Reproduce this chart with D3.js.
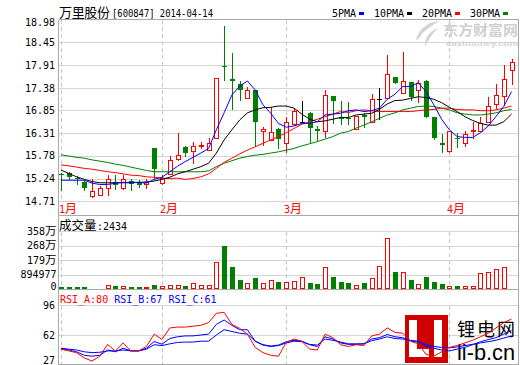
<!DOCTYPE html>
<html><head><meta charset="utf-8">
<script src="https://cdn.jsdelivr.net/npm/d3@7"></script>
<style>
html,body{margin:0;padding:0;background:#fff;}
svg{display:block;}
</style></head><body>
<svg id="c" width="520" height="365"></svg>
<script>
const dates = ["2014-01-14","2014-01-15","2014-01-16","2014-01-17","2014-01-20","2014-01-21","2014-01-22","2014-01-23","2014-01-24","2014-01-27","2014-01-28","2014-01-29","2014-01-30",
"2014-02-07","2014-02-10","2014-02-11","2014-02-12","2014-02-13","2014-02-14","2014-02-17","2014-02-18","2014-02-19","2014-02-20","2014-02-21","2014-02-24","2014-02-25","2014-02-26","2014-02-27","2014-02-28",
"2014-03-03","2014-03-04","2014-03-05","2014-03-06","2014-03-07","2014-03-10","2014-03-11","2014-03-12","2014-03-13","2014-03-14","2014-03-17","2014-03-18","2014-03-19","2014-03-20","2014-03-21","2014-03-24","2014-03-25","2014-03-26","2014-03-27","2014-03-28","2014-03-31",
"2014-04-01","2014-04-02","2014-04-03","2014-04-04","2014-04-08","2014-04-09","2014-04-10","2014-04-11","2014-04-14"];
const open = [15.35,15.36,15.25,15.17,14.83,14.85,15.01,15.15,15.01,15.18,15.17,15.11,15.95,15.13,15.35,15.69,15.99,15.88,16.00,15.91,16.19,17.90,17.59,17.46,17.13,17.33,16.36,16.15,16.42,16.07,16.53,16.58,16.78,16.41,16.36,17.18,16.70,16.66,16.42,16.75,16.57,17.12,17.13,17.63,17.25,17.52,17.33,17.55,16.70,16.09,15.90,16.20,16.09,16.37,16.36,16.58,17.01,17.19,17.79];
const high = [15.38,15.40,15.29,15.21,15.22,15.06,15.32,15.32,15.32,15.22,15.21,15.23,15.97,15.33,15.77,16.31,16.00,16.11,16.11,16.19,17.60,18.84,18.19,17.53,17.41,17.33,16.46,16.92,16.43,16.70,16.90,17.07,16.80,16.48,17.33,17.19,17.06,17.05,16.72,16.78,17.23,17.37,18.15,17.63,18.23,17.52,17.57,17.56,16.70,16.29,16.36,16.31,16.36,16.58,16.70,17.16,17.47,17.92,18.06];
const low = [14.96,15.22,15.10,14.96,14.80,14.84,14.85,14.99,15.00,14.96,15.05,15.01,15.22,15.12,15.34,15.68,15.77,15.60,15.96,15.91,16.19,17.56,16.87,17.09,17.13,16.01,16.03,16.14,15.97,15.87,16.50,16.54,16.11,16.15,16.21,16.54,16.52,16.52,16.42,16.46,16.57,16.64,17.13,17.50,17.25,17.09,17.05,16.70,16.17,15.87,15.87,15.99,16.01,16.19,16.35,16.58,16.90,16.98,17.46];
const close = [15.33,15.27,15.22,15.01,14.95,15.01,15.22,15.09,15.23,15.10,15.09,15.17,15.47,15.26,15.68,15.79,15.84,16.01,16.02,16.07,17.60,17.87,17.53,17.33,17.33,16.58,16.41,16.33,16.17,16.58,16.83,16.58,16.43,16.35,17.20,17.08,16.65,16.64,16.72,16.70,17.12,17.12,17.71,17.50,17.54,17.17,17.49,16.70,16.19,16.02,16.36,16.18,16.29,16.39,16.56,16.96,17.20,17.58,17.98];
// volume in 万 shares
const volume = [15,15,15,15,5,5,25,21,19,15,15,15,27,19,25,25,21,34,27,27,164,268,134,58,40,65,38,56,46,44,50,75,40,28,136,71,46,34,24,34,69,142,313,107,105,58,30,71,46,28,20,20,20,20,99,105,123,136,0.24];
const ma5 = [15.20,15.20,15.20,15.20,15.13,15.10,15.10,15.13,15.15,15.15,15.15,15.13,15.22,15.27,15.40,15.53,15.64,15.74,15.84,15.95,16.39,16.79,17.21,17.42,17.54,17.33,16.98,16.78,16.54,16.45,16.48,16.54,16.54,16.58,16.74,16.76,16.78,16.84,16.86,16.82,16.84,16.90,17.11,17.23,17.41,17.41,17.50,17.29,16.98,16.64,16.39,16.23,16.21,16.21,16.32,16.48,16.70,16.94,17.29];
const ma10 = [15.44,15.36,15.28,15.22,15.17,15.14,15.14,15.14,15.14,15.14,15.15,15.16,15.18,15.22,15.27,15.35,15.40,15.46,15.52,15.60,15.84,16.15,16.39,16.62,16.79,16.86,16.91,16.92,16.95,16.95,16.90,16.76,16.64,16.58,16.60,16.64,16.68,16.68,16.74,16.76,16.78,16.87,17.00,17.08,17.09,17.13,17.17,17.15,17.11,17.03,16.92,16.82,16.70,16.61,16.54,16.50,16.50,16.58,16.76];
const ma20 = [15.56,15.54,15.51,15.48,15.46,15.43,15.40,15.38,15.35,15.32,15.31,15.28,15.27,15.25,15.24,15.25,15.22,15.24,15.28,15.35,15.48,15.62,15.72,15.82,15.91,15.99,16.07,16.15,16.23,16.32,16.42,16.52,16.58,16.64,16.70,16.76,16.82,16.80,16.84,16.86,16.84,16.82,16.82,16.82,16.82,16.82,16.84,16.86,16.87,16.90,16.90,16.87,16.86,16.86,16.84,16.84,16.86,16.90,16.95];
const ma30 = [15.80,15.77,15.74,15.72,15.68,15.65,15.62,15.58,15.55,15.51,15.47,15.43,15.40,15.40,15.40,15.40,15.40,15.40,15.40,15.42,15.52,15.60,15.66,15.72,15.76,15.79,15.81,15.84,15.87,15.91,15.95,16.01,16.06,16.11,16.17,16.23,16.31,16.35,16.43,16.50,16.58,16.66,16.74,16.79,16.86,16.90,16.94,16.95,16.94,16.90,16.86,16.79,16.76,16.74,16.74,16.76,16.79,16.84,16.87];
const rsiA = [46,44,42,36,32.5,38,51.4,43.8,53,44,44,49,63,57,70,71,71,72,73,76,86.6,87.7,74,69.5,63,48,42,39,38,53.7,57.5,55,46,45,63,59,51,49,51,50,61,63,70,65,64,55,52,40,38,43,48,50,53,56,60,64,70,76,80];
const rsiB = [46,45,43,39,38,39,45,43,47,44,44,47,54.6,51.6,58,60,61,61,62,63,74,79,73,68,68,55,51,49.5,50.6,54.4,56,55,51,49,60,57.5,53,51.4,51.4,52,57.5,59,62.6,60,59,55,54,49,47,45,44,46,48,51,54.4,56.7,59,63,67];
const rsiC = [47,46,45,43,42,42.5,44,44,45,44,44,46,51,50,52,53.6,54,54,55,55,62,68,66,64,63,55,50.6,49,50,53,55,54.4,51.4,50.6,57.5,56,54,52,52,52,55.6,57.5,60,58,57.5,56,55,51,49,48,47.5,48.5,50,51.5,53,54.4,56,58.5,61];
const priceTicks = [14.71,15.24,15.78,16.31,16.85,17.38,17.91,18.45,18.98];
const volTicks = [0,89.4977,178.9954,268.4931,357.9908];
const volTickLabels = ["0","894977","179万","268万","358万"];
const rsiTicks = [27,62,96];
const maNames = ["5PMA","10PMA","20PMA","30PMA"];
const title = ["万里股份","[600847] 2014-04-14"];
const volLabel = ["成交量",":2434"];
const rsiLabels = ["RSI_A:80","RSI_B:67","RSI_C:61"];

const RED="#ff0000", GREEN="#008000", BLUE="#0000ff", BLACK="#000000";
const MONO="'DejaVu Sans Mono', monospace", CJK="'Noto Sans CJK SC', sans-serif";
const L=58.5, R=518.5;
const svg = d3.select("#c");

const x = d3.scalePoint().domain(dates).range([61, 511.5]);
const yP = d3.scaleLinear().domain([14.71, 18.98]).range([201, 20]);
const yV = d3.scaleLinear().domain([0, 357.9908]).range([289, 231]);
const yR = d3.scaleLinear().domain([27, 96]).range([365.9, 305]);
const px = d => Math.round(x(d));

// watermarks (behind)
const wm = svg.append("g");
wm.append("path").attr("fill","#d4d4d4")
  .attr("d","M440,21 C428,22 417,30 416,41 C420,35 428,27 440,21 Z M438,28 C430,31 424,38 425,47 C428,40 432,34 438,28 Z M433,22 C424,25 418,33 418,40 C422,33 427,27 433,22 Z");
wm.append("text").attr("x",443).attr("y",35).attr("font-family",CJK).attr("font-weight","bold")
  .attr("font-size",14).attr("fill","#d0d0d0").attr("textLength",75).attr("lengthAdjust","spacingAndGlyphs").text("东方财富网");
wm.append("text").attr("x",446).attr("y",46).attr("font-family","'Liberation Sans', sans-serif").attr("font-weight","bold")
  .attr("font-size",7.5).attr("fill","#d4d4d4").attr("textLength",72).attr("lengthAdjust","spacingAndGlyphs").text("eastmoney.com");

// grid
const grid = svg.append("g").attr("shape-rendering","crispEdges").attr("stroke","#d4d4d4");
priceTicks.slice(0,-1).forEach(t=>{
  const yy=Math.round(yP(t))+0.5;
  grid.append("line").attr("x1",L).attr("x2",R).attr("y1",yy).attr("y2",yy);
});
volTicks.slice(1).forEach(t=>{
  const yy=Math.round(yV(t))+0.5;
  grid.append("line").attr("x1",L).attr("x2",R).attr("y1",yy).attr("y2",yy);
});
[62,96].forEach(t=>{
  const yy=Math.round(yR(t))+0.5;
  grid.append("line").attr("x1",L).attr("x2",R).attr("y1",yy).attr("y2",yy);
});
// month dashed lines and labels
const monthStarts = dates.map((d,i)=>i).filter(i=> i===0 || dates[i].slice(5,7)!==dates[i-1].slice(5,7));
monthStarts.forEach(i=>{
  const xx = px(dates[i])+0.5;
  [[20,201],[232,289],[306,364]].forEach(([a,b])=>{
    grid.append("line").attr("x1",xx).attr("x2",xx).attr("y1",a).attr("y2",b)
      .attr("stroke","#c8c8c8").attr("stroke-dasharray","4,3");
  });
  const t = svg.append("text").attr("x",xx-2.5).attr("y",213).attr("fill",RED);
  t.append("tspan").attr("font-family",MONO).attr("font-size",10).text(String(+dates[i].slice(5,7)));
  t.append("tspan").attr("font-family",CJK).attr("font-size",12).text("月");
});

// logo (bottom right)
const lg = svg.append("g").attr("shape-rendering","crispEdges");
lg.append("rect").attr("x",405).attr("y",315).attr("width",43).attr("height",48).attr("fill","#d00000");
lg.append("rect").attr("x",409).attr("y",320).attr("width",8).attr("height",37).attr("fill","#fff");
lg.append("rect").attr("x",409).attr("y",349).attr("width",20).attr("height",8).attr("fill","#fff");
lg.append("rect").attr("x",434).attr("y",320).attr("width",8).attr("height",37).attr("fill","#fff");
svg.append("text").attr("x",457).attr("y",336).attr("font-family",CJK).attr("font-size",18)
  .attr("textLength",58).attr("lengthAdjust","spacing").text("锂电网");
svg.append("text").attr("x",457).attr("y",360).attr("font-family","'Liberation Sans', sans-serif").attr("font-size",22)
  .attr("textLength",58).attr("lengthAdjust","spacingAndGlyphs").text("li-b.cn");

// candles
const cg = svg.append("g").attr("shape-rendering","crispEdges");
dates.forEach((d,i)=>{
  const cx = px(d), o=open[i], c=close[i], h=high[i], l=low[i];
  const yt = Math.round(yP(Math.max(o,c))), yb = Math.round(yP(Math.min(o,c)));
  const yh = Math.round(yP(h)), yl = Math.round(yP(l));
  if (c>o){
    cg.append("line").attr("x1",cx+0.5).attr("x2",cx+0.5).attr("y1",yh).attr("y2",yt).attr("stroke",RED);
    cg.append("line").attr("x1",cx+0.5).attr("x2",cx+0.5).attr("y1",yb).attr("y2",yl+1).attr("stroke",RED);
    cg.append("rect").attr("x",cx-1.5).attr("y",yt+0.5).attr("width",4).attr("height",Math.max(yb-yt,1))
      .attr("fill","#fff").attr("stroke",RED);
  } else if (c<o){
    cg.append("line").attr("x1",cx+0.5).attr("x2",cx+0.5).attr("y1",yh).attr("y2",yl+1).attr("stroke",GREEN);
    cg.append("rect").attr("x",cx-2).attr("y",yt).attr("width",5).attr("height",Math.max(yb-yt,1)).attr("fill",GREEN);
  } else {
    cg.append("line").attr("x1",cx+0.5).attr("x2",cx+0.5).attr("y1",yh).attr("y2",yl+1).attr("stroke",BLACK);
    cg.append("line").attr("x1",cx-2).attr("x2",cx+3).attr("y1",yt+0.5).attr("y2",yt+0.5).attr("stroke",BLACK);
  }
});

// moving averages
const maLine = arr => d3.line().x((d,i)=>x(dates[i])).y(d=>yP(d))(arr);
[[ma30,GREEN],[ma20,RED],[ma10,BLACK],[ma5,BLUE]].forEach(([arr,col])=>{
  svg.append("path").attr("d",maLine(arr)).attr("fill","none").attr("stroke",col).attr("stroke-width",1);
});

// volume bars
const vg = svg.append("g").attr("shape-rendering","crispEdges");
dates.forEach((d,i)=>{
  const cx = px(d);
  const yt = Math.min(Math.round(yV(volume[i])), 288);
  if (close[i] >= open[i]){
    vg.append("rect").attr("x",cx-1.5).attr("y",yt+0.5).attr("width",4).attr("height",Math.max(288-yt,0))
      .attr("fill","#fff").attr("stroke",RED);
  } else {
    vg.append("rect").attr("x",cx-2).attr("y",yt).attr("width",5).attr("height",289-yt).attr("fill",GREEN);
  }
});

// RSI lines
const rLine = arr => d3.line().x((d,i)=>x(dates[i])).y(d=>yR(d))(arr);
[[rsiC,BLUE],[rsiB,BLUE],[rsiA,RED]].forEach(([arr,col])=>{
  svg.append("path").attr("d",rLine(arr)).attr("fill","none").attr("stroke",col).attr("stroke-width",1);
});

// frame
const fr = svg.append("g").attr("shape-rendering","crispEdges").attr("stroke","#a8a8a8");
[[L,19.5,R,19.5],[L,215.5,R,215.5],[L,289.5,R,289.5],[L,364.5,R,364.5],[L,19.5,L,364.5],[R,19.5,R,364.5]].forEach(([a,b,c,e])=>{
  fr.append("line").attr("x1",a).attr("y1",b).attr("x2",c).attr("y2",e);
});

// axes
function styleAxis(g){
  g.select(".domain").remove();
  g.selectAll("text").attr("font-family",MONO).attr("font-size",10).attr("fill","#000");
}
const ap = svg.append("g").attr("transform","translate(58,0)")
  .call(d3.axisLeft(yP).tickValues(priceTicks).tickSize(0).tickPadding(3).tickFormat(d3.format(".2f")));
styleAxis(ap);
ap.selectAll("text").filter(d=>d===18.98).attr("dy","0.55em");

const av = svg.append("g").attr("transform","translate(58,0)")
  .call(d3.axisLeft(yV).tickValues(volTicks).tickSize(0).tickPadding(1.5).tickFormat((d,i)=>volTickLabels[i]));
styleAxis(av);
av.selectAll("text").each(function(d,i){
  const s = volTickLabels[i];
  const t = d3.select(this);
  if (s.endsWith("万")){
    t.text(null);
    t.append("tspan").text(s.slice(0,-1));
    t.append("tspan").attr("font-family",CJK).attr("font-size",11.5).text("万");
  }
  if (i===0) t.attr("dy","0.05em");
});

const ar = svg.append("g").attr("transform","translate(58,0)")
  .call(d3.axisLeft(yR).tickValues(rsiTicks).tickSize(0).tickPadding(3));
styleAxis(ar);
ar.selectAll("text").filter(d=>d===27).attr("dy","-0.25em");

// title and legends
svg.append("text").attr("x",59).attr("y",17).attr("font-family",CJK).attr("font-size",13).attr("textLength",51).text(title[0]);
svg.append("text").attr("x",112).attr("y",17).attr("font-family",MONO).attr("font-size",11).attr("textLength",101).attr("lengthAdjust","spacingAndGlyphs").text(title[1]);
const legX = [332,374,422,470], legSq=[359,407,455,503], legC=[BLUE,BLACK,RED,GREEN];
maNames.forEach((n,i)=>{
  svg.append("text").attr("x",legX[i]).attr("y",17).attr("font-family",MONO).attr("font-size",10).text(n);
  svg.append("rect").attr("x",legSq[i]).attr("y",12).attr("width",5).attr("height",3).attr("fill",legC[i]).attr("shape-rendering","crispEdges");
});
svg.append("text").attr("x",59).attr("y",230).attr("font-family",CJK).attr("font-size",12.5).text(volLabel[0]);
svg.append("text").attr("x",97).attr("y",229.5).attr("font-family",MONO).attr("font-size",10).text(volLabel[1]);
const rl = svg.append("text").attr("x",60).attr("y",303).attr("font-family",MONO).attr("font-size",10);
rsiLabels.forEach((s,i)=>{
  rl.append("tspan").attr("fill", i===0?RED:BLUE).text((i?" ":"")+s);
});
</script>
</body></html>
